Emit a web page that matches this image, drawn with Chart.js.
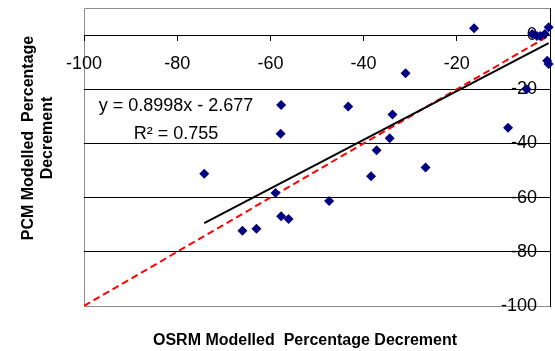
<!DOCTYPE html>
<html>
<head>
<meta charset="utf-8">
<script src="https://cdn.jsdelivr.net/npm/chart.js@4.4.1/dist/chart.umd.min.js"></script>
<style>
  html, body { margin: 0; padding: 0; background: #ffffff; }
  #wrap { width: 555px; height: 351px; position: relative; }
</style>
</head>
<body>
<div id="wrap"><canvas id="c" width="555" height="351"></canvas></div>
<script>
// ---- data ----
const osrmValues = [-16.3, -3.8, -2.8, -2.1, -1.1, -0.3, -0.6, -0.3, -5.0, -31.0, -43.3, -33.8, -57.7, -57.8, -74.2, -58.9, -57.7, -56.1, -66.0, -63.0, -34.4, -37.2, -38.4, -26.7, -47.4, -9.0];
const pcmValues  = [2.5, 0.4, -0.3, -0.3, 0.4, 2.9, -9.5, -10.7, -20.0, -14.1, -26.4, -29.3, -25.8, -36.4, -51.2, -58.3, -66.9, -67.9, -72.2, -71.5, -38.1, -42.5, -52.1, -48.9, -61.2, -34.2];
const trendSlope = 0.8998;
const trendIntercept = -2.677;
const rSquared = 0.755;
const identityRange = [-100, 0];
const xTickValues = [-100, -80, -60, -40, -20];
const yTickValues = [-100, -80, -60, -40, -20, 0];
const xTitle = 'OSRM Modelled  Percentage Decrement';
const yTitleLines = ['PCM Modelled  Percentage', 'Decrement'];

const points = osrmValues.map((x, i) => ({ x: x, y: pcmValues[i] }));
const xMin = Math.min(...osrmValues), xMax = Math.max(...osrmValues);
const trendPoints = [xMin, xMax].map(x => ({ x: x, y: trendSlope * x + trendIntercept }));
const identityPoints = identityRange.map(v => ({ x: v, y: v }));

const FONT = "'Liberation Sans', Arial, sans-serif";

const decorPlugin = {
  id: 'decor',
  beforeDraw(chart) {
    const { ctx, chartArea: a } = chart;
    ctx.save();
    ctx.strokeStyle = '#8c8c8c';
    ctx.lineWidth = 1;
    ctx.beginPath();
    ctx.moveTo(a.right, a.top + 0.5);
    ctx.lineTo(a.left + 0.5, a.top + 0.5);
    ctx.lineTo(a.left + 0.5, a.bottom + 0.5);
    ctx.stroke();
    ctx.restore();
  },
  afterDraw(chart) {
    const { ctx } = chart;
    ctx.save();
    ctx.fillStyle = '#000';
    // trendline equation
    ctx.font = '18px ' + FONT;
    ctx.textAlign = 'center';
    ctx.textBaseline = 'alphabetic';
    const sign = trendIntercept < 0 ? '- ' : '+ ';
    ctx.fillText('y = ' + trendSlope + 'x ' + sign + Math.abs(trendIntercept), 176, 111);
    ctx.fillText('R\u00B2 = ' + rSquared, 176, 139);
    // axis titles
    ctx.font = 'bold 16px ' + FONT;
    ctx.fillText(xTitle, 305, 345);
    ctx.save();
    ctx.translate(0, 138);
    ctx.rotate(-Math.PI / 2);
    ctx.fillText(yTitleLines[0], 0, 33);
    ctx.fillText(yTitleLines[1], 0, 52);
    ctx.restore();
    ctx.restore();
  }
};

new Chart(document.getElementById('c'), {
  type: 'scatter',
  data: {
    datasets: [
      {
        label: 'data',
        data: points,
        pointStyle: 'rectRot',
        pointRadius: 5,
        pointHoverRadius: 5,
        backgroundColor: '#000080',
        borderColor: '#000080',
        borderWidth: 0,
        clip: false,
        order: 1
      },
      {
        type: 'line',
        label: 'trend',
        data: trendPoints,
        borderColor: '#000000',
        borderWidth: 2,
        pointRadius: 0,
        fill: false,
        order: 2
      },
      {
        type: 'line',
        label: 'identity',
        data: identityPoints,
        borderColor: '#ff0000',
        borderWidth: 2,
        borderDash: [7, 4],
        pointRadius: 0,
        fill: false,
        order: 3
      }
    ]
  },
  options: {
    responsive: false,
    animation: false,
    events: [],
    layout: { padding: { left: 84, top: 8, right: 2, bottom: 45 } },
    plugins: { legend: { display: false }, tooltip: { enabled: false }, title: { display: false } },
    scales: {
      x: {
        type: 'linear',
        position: { y: 0 },
        min: -100,
        max: 0,
        afterBuildTicks(scale) { scale.ticks = xTickValues.map(v => ({ value: v })); },
        afterFit(scale) { scale.paddingLeft = 0; scale.paddingRight = 0; scale.paddingTop = 0; scale.paddingBottom = 0; },
        grid: { drawOnChartArea: false, drawTicks: true, tickLength: 5, color: '#000' },
        border: { display: true, color: '#000', width: 1 },
        ticks: { color: '#000', font: { family: FONT, size: 18 }, padding: 13, maxRotation: 0, autoSkip: false }
      },
      y: {
        type: 'linear',
        position: 'right',
        min: -100,
        max: 10,
        afterBuildTicks(scale) { scale.ticks = yTickValues.map(v => ({ value: v })); },
        afterFit(scale) { scale.width = 0; scale.paddingTop = 0; scale.paddingBottom = 0; scale.paddingLeft = 0; scale.paddingRight = 0; },
        grid: {
          drawTicks: false,
          color: (c) => (c.tick && c.tick.value === -100 ? '#8c8c8c' : '#000'),
          lineWidth: 1
        },
        border: { display: true, color: '#000', width: 1 },
        ticks: { mirror: true, padding: -13, color: '#000', font: { family: FONT, size: 18 }, autoSkip: false }
      }
    }
  },
  plugins: [decorPlugin]
});
</script>
</body>
</html>
